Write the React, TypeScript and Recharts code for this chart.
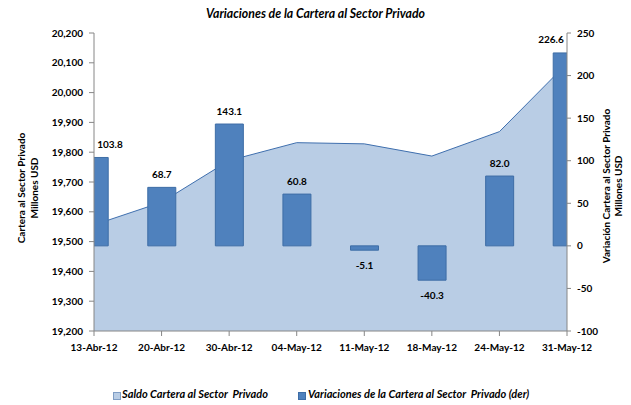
import { ComposedChart, Area, Bar, XAxis, YAxis, LabelList } from 'recharts';

const fechas = ['13-Abr-12', '20-Abr-12', '30-Abr-12', '04-May-12', '11-May-12', '18-May-12', '24-May-12', '31-May-12'];
const saldo = [19556, 19632, 19772, 19832, 19828, 19787, 19869, 20098];
const variacion = [103.8, 68.7, 143.1, 60.8, -5.1, -40.3, 82.0, 226.6];
const ticksIzq = [19200, 19300, 19400, 19500, 19600, 19700, 19800, 19900, 20000, 20100, 20200];
const ticksDer = [-100, -50, 0, 50, 100, 150, 200, 250];

const data = fechas.map((f, i) => ({ i, fecha: f, saldo: saldo[i], variacion: variacion[i] }));

const FONT = 'Lato, "Open Sans", sans-serif';
const PLOT_LEFT = 94;
const PLOT_RIGHT = 567;

const barLabel = (props: any) => {
  const { x, y, width, height, value } = props;
  const top = Math.min(y, y + height);
  const bottom = Math.max(y, y + height);
  let cx = x + width / 2;
  const half = 14;
  if (cx - half < PLOT_LEFT + 2) cx = PLOT_LEFT + 2 + half;
  if (cx + half > PLOT_RIGHT - 2) cx = PLOT_RIGHT - 2 - half;
  const cy = value >= 0 ? top - 12 : bottom + 16;
  return (
    <text x={cx} y={cy} textAnchor="middle" dominantBaseline="middle" fontSize={10} fontWeight="bold" fill="#000" fontFamily={FONT}>
      {Number(value).toFixed(1)}
    </text>
  );
};

const axisTitle = (lines: string[], xs: number[], cy: number) => () => (
  <g>
    {lines.map((t, k) => (
      <text key={k} x={xs[k]} y={cy} transform={`rotate(-90 ${xs[k]} ${cy})`} textAnchor="middle" dominantBaseline="middle" fontSize={10} fontWeight="bold" fill="#000" fontFamily={FONT}>
        {t}
      </text>
    ))}
  </g>
);

export default function App() {
  return (
    <div style={{ position: 'absolute', left: 0, top: 0, width: 631, height: 405, background: '#fff', fontFamily: FONT }}>
      <div style={{ position: 'absolute', top: 6, width: 631, textAlign: 'center', fontSize: 12.3, fontWeight: 'bold', fontStyle: 'italic', color: '#000' }}>
        Variaciones de la Cartera al Sector Privado
      </div>
      <ComposedChart width={631} height={405} data={data} margin={{ top: 33, right: 0, bottom: 44, left: 0 }}>
        <XAxis
          dataKey="i"
          type="number"
          domain={[0, 7]}
          ticks={[0, 1, 2, 3, 4, 5, 6, 7]}
          allowDataOverflow
          tickFormatter={(v: number) => fechas[v]}
          height={30}
          stroke="#868686"
          tickSize={5}
          tickMargin={8}
          tick={{ fontSize: 10, fontWeight: 'bold', fill: '#000', fontFamily: FONT }}
        />
        <YAxis
          yAxisId="left"
          domain={[19200, 20200]}
          ticks={ticksIzq}
          width={94}
          stroke="#868686"
          tickSize={5}
          tickMargin={6}
          tickFormatter={(v: number) => v.toLocaleString('en-US')}
          tick={{ fontSize: 10, fontWeight: 'bold', fill: '#000', fontFamily: FONT }}
          label={{ content: axisTitle(['Cartera al Sector Privado', 'Millones USD'], [22, 35], 188) }}
        />
        <YAxis
          yAxisId="right"
          orientation="right"
          domain={[-100, 250]}
          ticks={ticksDer}
          width={64}
          stroke="#868686"
          tickSize={4}
          tickMargin={6}
          tick={{ fontSize: 10, fontWeight: 'bold', fill: '#000', fontFamily: FONT }}
          label={{ content: axisTitle(['Variación Cartera al Sector Privado', 'Millones USD'], [607, 619], 186) }}
        />
        <Area
          yAxisId="left"
          type="linear"
          dataKey="saldo"
          fill="#B9CDE5"
          fillOpacity={1}
          stroke="#3F6FAE"
          strokeWidth={1}
          dot={false}
          activeDot={false}
          isAnimationActive={false}
        />
        <Bar yAxisId="right" dataKey="variacion" barSize={28} fill="#4F81BD" stroke="#3E6DA6" strokeWidth={1} isAnimationActive={false}>
          <LabelList dataKey="variacion" content={barLabel} />
        </Bar>
      </ComposedChart>
      <div style={{ position: 'absolute', top: 387, left: 0, width: 631, fontSize: 11, fontStyle: 'italic', fontWeight: 'bold', color: '#000' }}>
        <div style={{ position: 'absolute', left: 113, top: 5, width: 6, height: 6, background: '#B9CDE5', border: '1px solid #7F9DC4' }} />
        <span style={{ position: 'absolute', left: 122, top: 0, whiteSpace: 'pre' }}>Saldo Cartera al Sector  Privado</span>
        <div style={{ position: 'absolute', left: 298, top: 5, width: 6, height: 6, background: '#4F81BD', border: '1px solid #3E6DA6' }} />
        <span style={{ position: 'absolute', left: 308, top: 0, whiteSpace: 'pre' }}>Variaciones de la Cartera al Sector  Privado (der)</span>
      </div>
    </div>
  );
}
